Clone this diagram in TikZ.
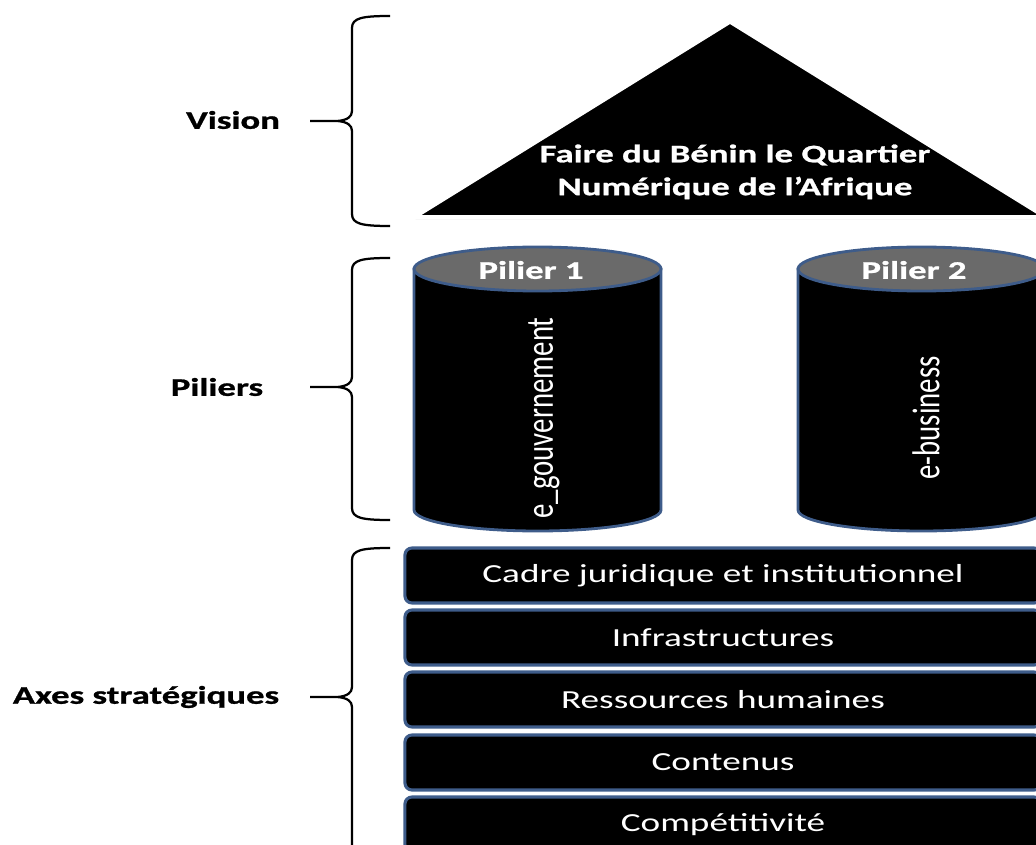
\documentclass[tikz,border=0pt]{standalone}
\usepackage{fontspec}
\setmainfont{Carlito}
\newfontfamily\widefont[FakeStretch=1.43]{Carlito}
\newfontfamily\wideheavy[FakeStretch=1.45,FakeBold=1]{Carlito}
\usetikzlibrary{shadows}
\definecolor{pillarblue}{RGB}{62,92,138}
\definecolor{lidgrey}{RGB}{106,106,106}
\tikzset{
	bracket/.style={line width=1.6pt,black},
	level/.style={font=\wideheavy\bfseries\fontsize{18}{22}\selectfont,text=black},
	inside/.style={font=\widefont\fontsize{18.5}{22}\selectfont,text=white},
	lidtext/.style={font=\wideheavy\bfseries\fontsize{18}{22}\selectfont,text=white},
	upright/.style={font=\fontsize{20.5}{24}\selectfont,text=white,rotate=90},
	pillar/.style={draw=pillarblue,line width=2pt,fill=black},
	axisbox/.style={inside,draw=pillarblue,line width=2.2pt,fill=black,rounded corners=5pt,
		minimum width=15.9cm,minimum height=1.375cm},
}
\begin{document}
\begin{tikzpicture}[x=0.025cm,y=-0.025cm]
	\useasboundingbox (0,0) rectangle (1036,845);

	% roof
	\draw[white,line width=2.5pt,fill=black,
		drop shadow={fill=black!40,opacity=0.6,shadow xshift=0.5pt,shadow yshift=-1.5pt}]
		(730,22) -- (1045,217) -- (415,217) -- cycle;
	\node[lidtext] (roof1) at (735,155) {Faire du Bénin le Quartier};
	\node[lidtext] (roof2) at (735,188) {Numérique de l’Afrique};

	% pillars
	\draw[pillar] (414,269) -- (414,510) arc[start angle=180,end angle=0,x radius=123.5,y radius=21] -- (661,269) -- cycle;
	\draw[pillar,fill=lidgrey] (537.5,269) ellipse [x radius=123.5,y radius=22];
	\draw[pillar] (798,269) -- (798,510) arc[start angle=180,end angle=0,x radius=123.5,y radius=21] -- (1045,269) -- cycle;
	\draw[pillar,fill=lidgrey] (921.5,269) ellipse [x radius=123.5,y radius=22];

	\node[lidtext] (lid1) at (531,270) {Pilier 1};
	\node[lidtext] (lid2) at (914,270) {Pilier 2};
	\node[upright] (egov) at (544,418) {\scalebox{1}[1.35]{e\_gouvernement}};
	\node[upright] (ebiz) at (926,418) {\scalebox{1}[1.35]{e-business}};

	% strategic axes
	\node[axisbox] (cadre) at (723,575.5) {Cadre juridique et institutionnel};
	\node[axisbox] (infra) at (723,637.5) {Infrastructures};
	\node[axisbox] (rh) at (723,699.5) {Ressources humaines};
	\node[axisbox] (contenus) at (723,762.5) {Contenus};
	\node[axisbox] (compet) at (723,824.5) {Compétitivité};

	% level labels
	\node[level] (vision) at (233,120) {Vision};
	\node[level] (piliers) at (217,387) {Piliers};
	\node[level] (axes) at (146,697) {Axes stratégiques};

	% braces
	\coordinate (vtip) at (310,121);
	\draw[bracket] (390,16) .. controls (362,16) and (352,18) .. (352,28) -- (352,111)
		.. controls (352,117) and (347,120) .. (338,121) -- (vtip);
	\draw[bracket] (338,121) .. controls (347,122) and (352,125) .. (352,131) -- (352,214)
		.. controls (352,224) and (362,226) .. (390,226);

	\coordinate (ptip) at (310,387);
	\draw[bracket] (390,258) .. controls (362,258) and (352,260) .. (352,270) -- (352,377)
		.. controls (352,383) and (347,386) .. (338,387) -- (ptip);
	\draw[bracket] (338,387) .. controls (347,388) and (352,391) .. (352,397) -- (352,508)
		.. controls (352,518) and (362,520) .. (390,520);

	\coordinate (atip) at (310,697);
	\draw[bracket] (390,548) .. controls (362,548) and (352,550) .. (352,560) -- (352,687)
		.. controls (352,693) and (347,696) .. (338,697) -- (atip);
	\draw[bracket] (338,697) .. controls (347,698) and (352,701) .. (352,707) -- (352,860);

\end{tikzpicture}
\end{document}
